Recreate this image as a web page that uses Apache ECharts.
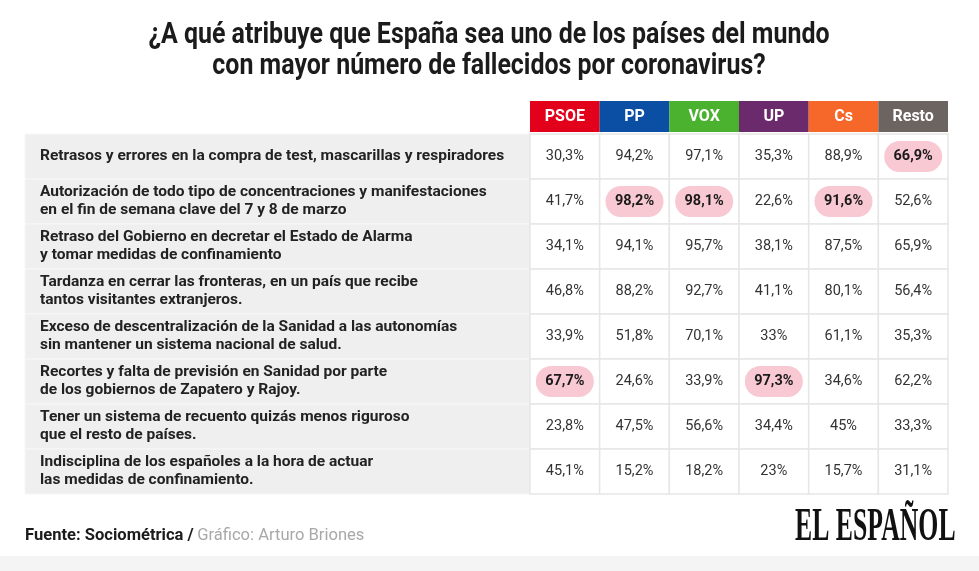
<!DOCTYPE html>
<html><head><meta charset="utf-8">
<script src="https://cdn.jsdelivr.net/npm/echarts@6/dist/echarts.min.js"></script>
<style>html,body{margin:0;padding:0;background:#fff;}#c{width:979px;height:571px;}</style>
</head><body><div id="c"></div>
<script>
const parties = ['PSOE', 'PP', 'VOX', 'UP', 'Cs', 'Resto'];
const partyColors = ['#e2001a', '#0b4fa4', '#4bb22f', '#6a2a6c', '#f6672a', '#6b6461'];
const questions = [
  'Retrasos y errores en la compra de test, mascarillas y respiradores',
  'Autorización de todo tipo de concentraciones y manifestaciones\nen el fin de semana clave del 7 y 8 de marzo',
  'Retraso del Gobierno en decretar el Estado de Alarma\ny tomar medidas de confinamiento',
  'Tardanza en cerrar las fronteras, en un país que recibe\ntantos visitantes extranjeros.',
  'Exceso de descentralización de la Sanidad a las autonomías\nsin mantener un sistema nacional de salud.',
  'Recortes y falta de previsión en Sanidad por parte\nde los gobiernos de Zapatero y Rajoy.',
  'Tener un sistema de recuento quizás menos riguroso\nque el resto de países.',
  'Indisciplina de los españoles a la hora de actuar\nlas medidas de confinamiento.'
];
const psoe  = [30.3, 41.7, 34.1, 46.8, 33.9, 67.7, 23.8, 45.1];
const pp    = [94.2, 98.2, 94.1, 88.2, 51.8, 24.6, 47.5, 15.2];
const vox   = [97.1, 98.1, 95.7, 92.7, 70.1, 33.9, 56.6, 18.2];
const up    = [35.3, 22.6, 38.1, 41.1, 33, 97.3, 34.4, 23];
const cs    = [88.9, 91.6, 87.5, 80.1, 61.1, 34.6, 45, 15.7];
const resto = [66.9, 52.6, 65.9, 56.4, 35.3, 62.2, 33.3, 31.1];
const columns = [psoe, pp, vox, up, cs, resto];

const fmt = v => String(v).replace('.', ',') + '%';
const cellData = [];
columns.forEach((col, c) => {
  const mx = Math.max(...col);
  col.forEach((v, r) => cellData.push([c, r, v, v === mx ? 1 : 0]));
});

const rich = {};
partyColors.forEach((col, i) => {
  rich['h' + i] = {
    width: 69.7, height: 31, lineHeight: 31, align: 'center',
    backgroundColor: col, color: '#fff', fontFamily: 'Roboto', fontWeight: 'bold', fontSize: 16
  };
});

const chart = echarts.init(document.getElementById('c'));
chart.setOption({
  backgroundColor: '#ffffff',
  animation: false,
  grid: [
    { left: 25, top: 134, width: 505, height: 360 },
    { left: 530, top: 134, width: 418, height: 360 }
  ],
  xAxis: [
    { gridIndex: 0, type: 'value', min: 0, max: 1, show: false },
    {
      gridIndex: 1, type: 'category', data: parties, position: 'top',
      axisLine: { show: false }, axisTick: { show: false }, splitLine: { show: false },
      axisLabel: { interval: 0, margin: 2, formatter: (v, i) => '{h' + i + '|' + v + '}', rich: rich }
    }
  ],
  yAxis: [
    { gridIndex: 0, type: 'category', data: questions, inverse: true, show: false },
    { gridIndex: 1, type: 'category', data: questions, inverse: true, show: false }
  ],
  series: [
    {
      type: 'custom', xAxisIndex: 0, yAxisIndex: 0,
      data: questions.map((q, i) => [0, i]),
      renderItem: function (params, api) {
        const cs = params.coordSys;
        const r = api.value(1);
        const p = api.coord([0, r]);
        const h = api.size([0, 1])[1];
        return {
          type: 'group',
          children: [
            { type: 'rect', shape: { x: cs.x, y: p[1] - h / 2, width: cs.width, height: h },
              style: { fill: '#efefef', stroke: '#f7f7f7', lineWidth: 1 } },
            { type: 'text', style: {
              text: questions[r], x: cs.x + 15, y: p[1],
              align: 'left', verticalAlign: 'middle', textAlign: 'left', textVerticalAlign: 'middle',
              fontFamily: 'Roboto', fontWeight: 'bold', fontSize: 15.5, lineHeight: 18, fill: '#222' } }
          ]
        };
      }
    },
    {
      type: 'custom', xAxisIndex: 1, yAxisIndex: 1,
      data: cellData,
      renderItem: function (params, api) {
        const c = api.value(0), r = api.value(1), v = api.value(2), hi = api.value(3);
        const p = api.coord([c, r]);
        const s = api.size([1, 1]);
        const w = s[0], h = s[1];
        const children = [
          { type: 'rect', shape: { x: p[0] - w / 2, y: p[1] - h / 2, width: w, height: h },
            style: { fill: '#fff', stroke: '#e6e6e6', lineWidth: 1.5 } }
        ];
        if (hi) {
          children.push({ type: 'rect', shape: { x: p[0] - 29, y: p[1] - 15.5, width: 58, height: 31, r: 15.5 },
            style: { fill: '#f8c8d3' } });
        }
        children.push({ type: 'text', style: {
          text: fmt(v), x: p[0], y: p[1],
          align: 'center', verticalAlign: 'middle', textAlign: 'center', textVerticalAlign: 'middle',
          fontFamily: 'Roboto', fontWeight: hi ? 'bold' : 'normal', fontSize: 14.5, fill: hi ? '#1a1a1a' : '#333' } });
        return { type: 'group', children: children };
      }
    }
  ],
  graphic: [
    { type: 'rect', shape: { x: 0, y: 556, width: 979, height: 15 }, style: { fill: '#f4f4f4' } },
    { type: 'text', x: 489, y: 36, scaleX: 0.86,
      style: { text: '¿A qué atribuye que España sea uno de los países del mundo', align: 'center', verticalAlign: 'middle',
        fontFamily: 'Roboto', fontWeight: 'bold', fontSize: 29, fill: '#1b1b1b' } },
    { type: 'text', x: 489, y: 67, scaleX: 0.86,
      style: { text: 'con mayor número de fallecidos por coronavirus?', align: 'center', verticalAlign: 'middle',
        fontFamily: 'Roboto', fontWeight: 'bold', fontSize: 29, fill: '#1b1b1b' } },
    { type: 'text', x: 25, y: 536, scaleX: 1.035,
      style: { text: '{b|Fuente: Sociométrica /} {g|Gráfico: Arturo Briones}', align: 'left', verticalAlign: 'middle',
        rich: {
          b: { fontFamily: 'Roboto', fontWeight: 'bold', fontSize: 16, fill: '#1b1b1b', color: '#1b1b1b' },
          g: { fontFamily: 'Roboto', fontSize: 16, fill: '#a8a8a8', color: '#a8a8a8' }
        } } },
    { type: 'text', x: 795, y: 528, scaleX: 0.56,
      style: { text: 'EL ESPAÑOL', align: 'left', verticalAlign: 'middle',
        fontFamily: 'Liberation Serif', fontWeight: 'bold', fontSize: 46, fill: '#111' } }
  ]
});
</script>
</body></html>
